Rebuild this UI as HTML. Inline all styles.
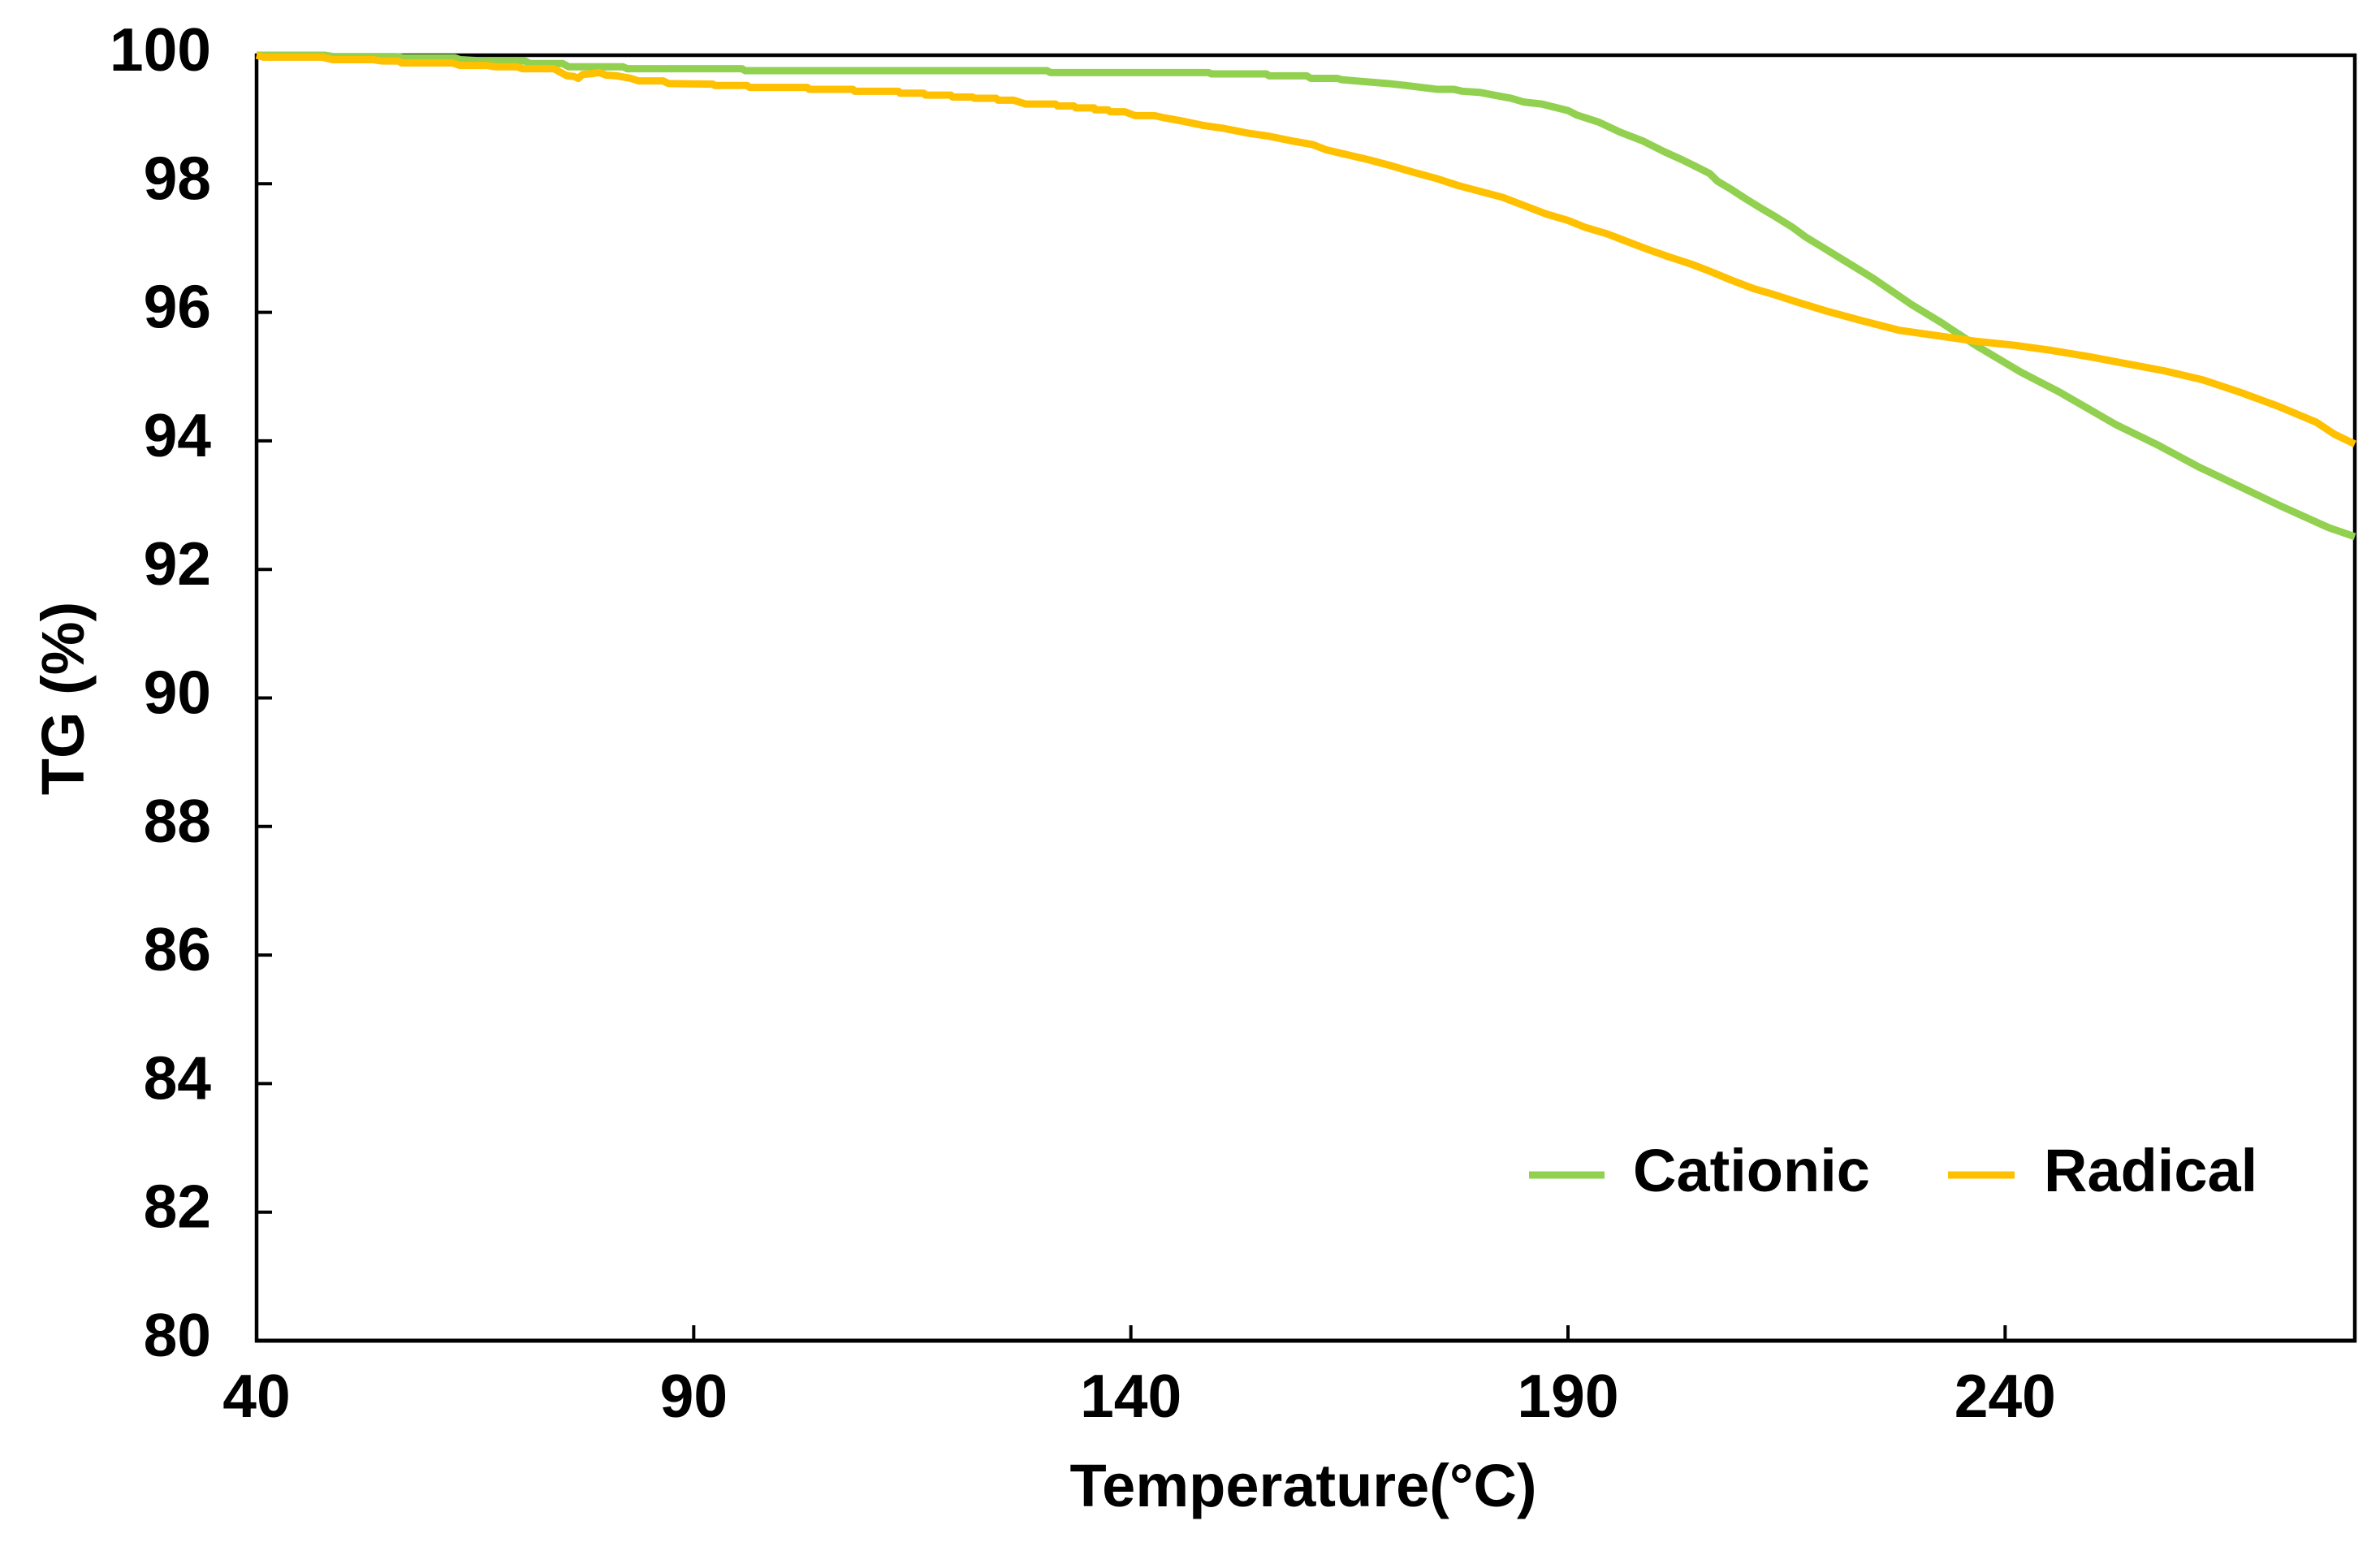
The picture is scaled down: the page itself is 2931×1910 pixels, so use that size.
<!DOCTYPE html>
<html lang="en">
<head>
<meta charset="utf-8">
<title>TG curves: Cationic vs Radical</title>
<style>
  html, body { margin: 0; padding: 0; background: #ffffff; }
  #chart { display: block; width: 2931px; height: 1910px; }
  text { font-family: "Liberation Sans", Arial, sans-serif; font-weight: 700; fill: #000000; }
</style>
</head>
<body>
<svg id="chart" xmlns="http://www.w3.org/2000/svg" width="2931" height="1910" viewBox="0 0 2931 1910">
  <rect x="0" y="0" width="2931" height="1910" fill="#ffffff"></rect>
  <g id="axes"></g>
  <g id="series"></g>
  <text x="1605" y="1855" font-size="74" text-anchor="middle">Temperature(°C)</text>
  <text transform="translate(103 860) rotate(-90)" font-size="74" text-anchor="middle">TG (%)</text>
  <g>
    <g>
      <line x1="1883" y1="1447" x2="1976" y2="1447" stroke="#92D050" stroke-width="9"></line>
      <text x="2011" y="1467" font-size="74">Cationic</text>
    </g>
    <g>
      <line x1="2399" y1="1447" x2="2481" y2="1447" stroke="#FFC000" stroke-width="9"></line>
      <text x="2517" y="1467" font-size="74">Radical</text>
    </g>
  </g>
</svg>
<script>
var xTickLabels = [40, 90, 140, 190, 240];
var yTickLabels = [100, 98, 96, 94, 92, 90, 88, 86, 84, 82, 80];

var cationicTemperature = [40, 47.8, 48.7, 55.9, 56.8, 62.7, 63.3, 66.1, 70.7, 71.3, 75, 75.7, 81.9, 82.4, 95.5, 95.9, 130.4, 130.8, 148.9, 149.2, 155.5, 155.8, 160.1, 160.6, 163.6, 164.1, 166.6, 169.4, 171.4, 175, 176.9, 177.9, 180, 181.5, 183.5, 185, 187, 190, 191, 193.5, 196, 198.5, 201, 203.1, 204.6, 206.2, 207.1, 208.7, 210.4, 212.2, 213.7, 215.7, 217.2, 218.9, 221.9, 224.9, 229.3, 232.7, 236.6, 241.8, 246.2, 252.7, 257.4, 262.2, 271.3, 277, 280];
var cationicTG = [100, 100, 99.98, 99.98, 99.96, 99.96, 99.93, 99.91, 99.91, 99.87, 99.87, 99.82, 99.82, 99.79, 99.79, 99.76, 99.76, 99.73, 99.73, 99.71, 99.71, 99.68, 99.68, 99.64, 99.64, 99.62, 99.59, 99.56, 99.53, 99.47, 99.47, 99.44, 99.42, 99.38, 99.33, 99.27, 99.24, 99.14, 99.07, 98.96, 98.8, 98.67, 98.5, 98.37, 98.27, 98.16, 98.04, 97.91, 97.76, 97.61, 97.49, 97.32, 97.17, 97.03, 96.78, 96.53, 96.12, 95.84, 95.49, 95.07, 94.76, 94.25, 93.94, 93.59, 93, 92.65, 92.51];

var radicalTemperature = [40, 40.8, 47.5, 48.7, 53.4, 54.3, 56.2, 56.6, 62.4, 63.3, 66.4, 67.3, 69.8, 70.4, 74, 74.7, 75.5, 76.3, 76.8, 77.3, 78.2, 79.2, 80, 81.2, 82.8, 83.7, 86.5, 87.1, 92.2, 92.4, 96.1, 96.4, 103, 103.2, 108.2, 108.4, 113.4, 113.6, 116.3, 116.5, 119.4, 119.6, 121.9, 122.1, 124.6, 124.8, 126.6, 128, 131.4, 131.6, 133.5, 133.7, 135.8, 135.9, 137.4, 137.6, 139.3, 140.5, 142.7, 143.7, 145.7, 148.2, 150.7, 153.3, 155.8, 158.3, 160.8, 162.3, 164.8, 167.3, 169.8, 172.3, 175, 177.5, 180, 182.5, 185, 187.5, 190, 192, 194.5, 196.6, 199.1, 201.6, 204.1, 206.2, 208.7, 211.2, 213.7, 216.2, 219.3, 223.6, 227.9, 233.1, 236.6, 240.9, 245.2, 249.6, 253.9, 258.2, 262.6, 266.8, 271.2, 275.6, 277.7, 280];
var radicalTG = [100, 99.97, 99.97, 99.93, 99.93, 99.91, 99.91, 99.88, 99.88, 99.84, 99.84, 99.82, 99.82, 99.79, 99.79, 99.74, 99.68, 99.67, 99.64, 99.7, 99.71, 99.73, 99.69, 99.68, 99.64, 99.6, 99.6, 99.56, 99.55, 99.53, 99.53, 99.5, 99.5, 99.47, 99.47, 99.44, 99.44, 99.41, 99.41, 99.38, 99.38, 99.35, 99.35, 99.33, 99.33, 99.3, 99.3, 99.24, 99.24, 99.21, 99.21, 99.18, 99.18, 99.15, 99.15, 99.12, 99.12, 99.06, 99.06, 99.03, 98.98, 98.91, 98.86, 98.79, 98.74, 98.67, 98.61, 98.53, 98.45, 98.37, 98.28, 98.18, 98.08, 97.97, 97.88, 97.79, 97.66, 97.53, 97.43, 97.32, 97.22, 97.11, 96.98, 96.86, 96.75, 96.64, 96.5, 96.37, 96.27, 96.16, 96.03, 95.87, 95.72, 95.62, 95.55, 95.49, 95.41, 95.31, 95.2, 95.09, 94.95, 94.76, 94.54, 94.29, 94.1, 93.95];

var SVG_NS = 'http://www.w3.org/2000/svg';
var plotLeft = 316, plotRight = 2900, plotTop = 68, plotBottom = 1651;
var xMin = 40, xMax = 280, yMin = 80, yMax = 100;

function xScale(t) {
  return plotLeft + (t - xMin) * (plotRight - plotLeft) / (xMax - xMin);
}
function yScale(v) {
  return plotBottom - (v - yMin) * (plotBottom - plotTop) / (yMax - yMin);
}
function make(tag, attrs) {
  var el = document.createElementNS(SVG_NS, tag);
  for (var k in attrs) { el.setAttribute(k, attrs[k]); }
  return el;
}
function linePath(xs, ys) {
  var d = '';
  for (var i = 0; i < xs.length; i++) {
    d += (i === 0 ? 'M' : 'L') + xScale(xs[i]).toFixed(2) + ' ' + yScale(ys[i]).toFixed(2);
  }
  return d;
}

var axes = document.getElementById('axes');
var seriesGroup = document.getElementById('series');

var frame = make('rect', { x: xScale(xMin), y: yScale(yMax), width: xScale(xMax) - xScale(xMin), height: yScale(yMin) - yScale(yMax), fill: 'none', stroke: '#000', 'stroke-width': 4.5 });


axes.appendChild(frame);

var xAxisLine = make('line', { x1: xScale(xMin) - 2, x2: xScale(xMax) + 2, y1: yScale(yMin), y2: yScale(yMin), stroke: '#000', 'stroke-width': 5 });


axes.appendChild(xAxisLine);

xTickLabels.forEach(function (t) {
  var tick = make('line', { x1: xScale(t), x2: xScale(t), y1: yScale(yMin) - 19, y2: yScale(yMin), stroke: '#000', 'stroke-width': 4 });
  
  
  axes.appendChild(tick);
  var label = make('text', { x: xScale(t), y: 1745, 'font-size': 75, 'text-anchor': 'middle' });
  label.textContent = String(t);
  
  
  axes.appendChild(label);
});

yTickLabels.forEach(function (v) {
  var tick = make('line', { x1: xScale(xMin), x2: xScale(xMin) + 19, y1: yScale(v), y2: yScale(v), stroke: '#000', 'stroke-width': 4 });
  
  
  axes.appendChild(tick);
  var label = make('text', { x: 260, y: yScale(v) + 19, 'font-size': 75, 'text-anchor': 'end' });
  label.textContent = String(v);
  
  
  axes.appendChild(label);
});

var cationicLine = make('path', { d: linePath(cationicTemperature, cationicTG), fill: 'none', stroke: '#92D050', 'stroke-width': 9, 'stroke-linejoin': 'round' });


seriesGroup.appendChild(cationicLine);

var radicalLine = make('path', { d: linePath(radicalTemperature, radicalTG), fill: 'none', stroke: '#FFC000', 'stroke-width': 9, 'stroke-linejoin': 'round' });


seriesGroup.appendChild(radicalLine);
</script>
</body>
</html>
